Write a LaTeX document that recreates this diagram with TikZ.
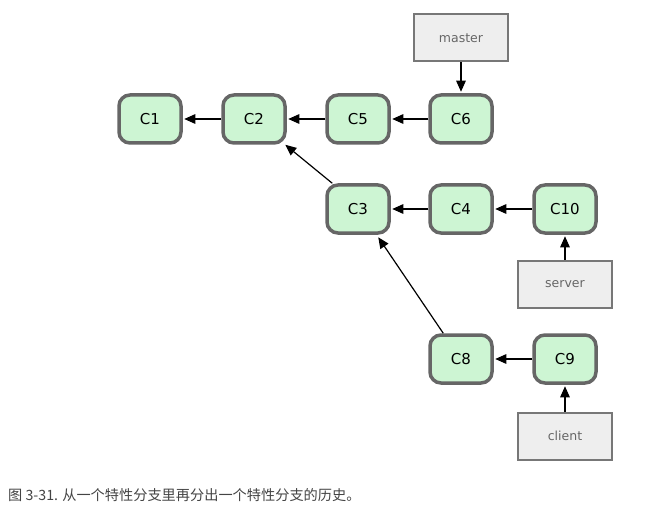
\documentclass[tikz,border=0pt]{standalone}
\usepackage{fontspec}
\setmainfont{DejaVu Sans}
\newfontfamily\cjk{Noto Sans CJK SC}
\usetikzlibrary{arrows.meta,calc}
\definecolor{commitfill}{HTML}{CDF5D3}
\definecolor{commitdraw}{HTML}{666666}
\definecolor{reffill}{HTML}{EEEEEE}
\definecolor{refdraw}{HTML}{777777}
\definecolor{reftext}{HTML}{666666}
\definecolor{captext}{HTML}{444444}
\begin{document}
\begin{tikzpicture}[x=1pt,y=-1pt,
  commit/.style={draw=commitdraw,fill=commitfill,line width=3.5pt,rounded corners=11pt,
    minimum width=62pt,minimum height=48pt,inner sep=0pt,font=\fontsize{15}{17}\selectfont},
  refbox/.style={draw=refdraw,fill=reffill,line width=2pt,minimum width=94pt,minimum height=47pt,
    inner sep=0pt,text=reftext,font=\fontsize{12.5}{14}\selectfont},
  parent/.style={-{Triangle[length=11pt,width=9.5pt]},line width=1.2pt,shorten >=1.5pt}]
\useasboundingbox (0,0) rectangle (667,516);
\node[commit] (c1) at (150,119) {C1};
\node[commit] (c2) at (254,119) {C2};
\node[commit] (c5) at (358,119) {C5};
\node[commit] (c6) at (461,119) {C6};
\node[commit] (c3) at (358,209) {C3};
\node[commit] (c4) at (461,209) {C4};
\node[commit] (c10) at (565,209) {C10};
\node[commit] (c8) at (461,359) {C8};
\node[commit] (c9) at (565,359) {C9};
\node[refbox] (master) at (461,38) {master};
\node[refbox] (server) at (565,284) {server};
\node[refbox] (client) at (565,436) {client};
\draw[parent] (c2) -- (c1);
\draw[parent] (c5) -- (c2);
\draw[parent] (c6) -- (c5);
\draw[parent] (c4) -- (c3);
\draw[parent] (c10) -- (c4);
\draw[parent] (c9) -- (c8);
\draw[parent,shorten >=0pt] ($(c3.north west)+(7,0)$) -- ($(c2.south east)+(-1.5,0)$);
\draw[parent,shorten >=0pt] ($(c8.north west)+(15,0)$) -- ($(c3.south east)+(-12.5,2.5)$);
\draw[parent] (master) -- (c6);
\draw[parent] (server) -- (c10);
\draw[parent] (client) -- (c9);
\node[anchor=west,text=captext,font=\cjk\fontsize{14.2}{16}\selectfont,inner sep=0pt] (cap) at (8,495) {图 3-31. 从一个特性分支里再分出一个特性分支的历史。};
\end{tikzpicture}
\end{document}
